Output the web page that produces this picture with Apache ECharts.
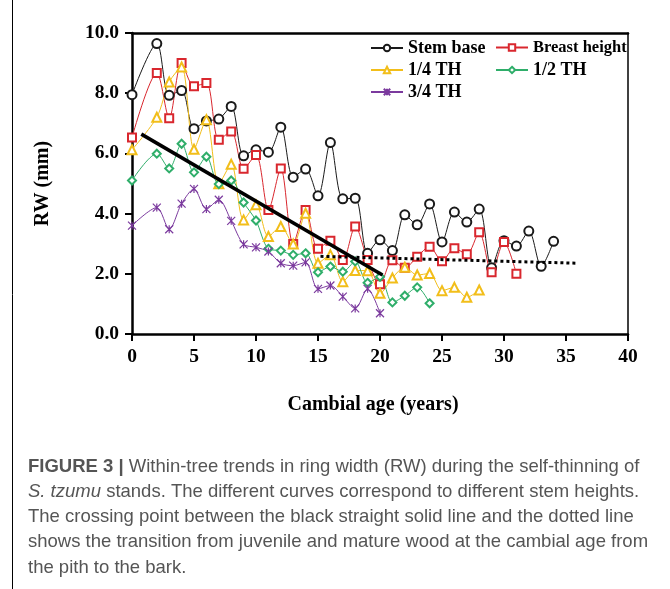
<!DOCTYPE html>
<html>
<head>
<meta charset="utf-8">
<script src="https://cdn.jsdelivr.net/npm/echarts@6/dist/echarts.min.js"></script>
<style>
  html, body { margin: 0; padding: 0; background: #fff; }
  #chart { width: 670px; height: 589px; }
</style>
</head>
<body>
<div id="chart"></div>
<script>
// cambial ages (years) that carry a measurement; age 1 is not plotted
const ages = [0, 2, 3, 4, 5, 6, 7, 8, 9, 10, 11, 12, 13, 14, 15, 16, 17, 18, 19, 20,
  21, 22, 23, 24, 25, 26, 27, 28, 29, 30, 31, 32, 33, 34];

// ring width (mm) per stem height
const stemBase = [7.95, 9.65, 7.93, 8.09, 6.82, 7.08, 7.14, 7.56, 5.92, 6.12, 6.04, 6.87, 5.21, 5.48,
  4.59, 6.36, 4.49, 4.51, 2.68, 3.13, 2.77, 3.96, 3.63, 4.32, 3.06, 4.05, 3.72, 4.15, 2.2, 3.1,
  2.92, 3.42, 2.25, 3.08];
const breastHeight = [6.53, 8.67, 7.17, 9.0, 8.23, 8.34, 6.45, 6.73, 5.49, 5.95, 4.12, 5.5, 2.99, 4.12,
  2.83, 3.1, 2.46, 3.57, 2.46, 1.65, 2.45, 2.2, 2.57, 2.9, 2.42, 2.85, 2.65, 3.38, 2.05, 3.06, 2.0];
const quarterTH = [6.12, 7.2, 8.37, 8.87, 6.14, 7.12, 4.99, 5.64, 3.79, 4.29, 3.24, 3.57, 2.99, 4.01,
  2.35, 2.63, 1.74, 2.11, 2.1, 1.35, 1.86, 2.22, 1.96, 2.01, 1.44, 1.55, 1.22, 1.46];
const halfTH = [5.1, 5.99, 5.5, 6.32, 5.37, 5.89, 4.98, 5.1, 4.37, 3.77, 2.83, 2.77, 2.63, 2.68,
  2.05, 2.24, 2.07, 2.41, 1.7, 1.9, 1.05, 1.27, 1.55, 1.02];
const threeQuarterTH = [3.6, 4.2, 3.48, 4.33, 4.82, 4.15, 4.46, 3.76, 2.98, 2.88, 2.74, 2.35, 2.27, 2.38,
  1.5, 1.61, 1.24, 0.85, 1.5, 0.69];

// the two fitted trend lines (age, RW)
const juvenileLine = [[0.75, 6.64], [20.2, 1.96]];
const matureLine = [[15.2, 2.58], [36, 2.35]];

// axis ticks
const xTicks = [0, 5, 10, 15, 20, 25, 30, 35, 40];
const yTicks = [0, 2, 4, 6, 8, 10];

const serif = "'Liberation Serif', 'Times New Roman', serif";
const sans = "'Liberation Sans', Arial, sans-serif";

const chart = echarts.init(document.getElementById('chart'));

// pair every value with its age
function pairs(values) {
  return values.map((v, i) => [ages[i], v]);
}

const curves = [
  { name: 'Stem base', data: stemBase, color: '#1a1a1a', symbol: 'emptyCircle', size: 9 },
  { name: 'Breast height', data: breastHeight, color: '#d9272e', symbol: 'emptyRect', size: 8 },
  { name: '1/4 TH', data: quarterTH, color: '#f2be1a', symbol: 'emptyTriangle', size: 9 },
  { name: '1/2 TH', data: halfTH, color: '#2fae6a', symbol: 'emptyDiamond', size: 8 },
  { name: '3/4 TH', data: threeQuarterTH, color: '#7b3a9e',
    symbol: 'path://M0,0L10,10M10,0L0,10M5,0L5,10', size: 8 }
];

const series = curves.map((c) => ({
  name: c.name,
  type: 'line',
  data: pairs(c.data),
  smooth: 0.3,
  symbol: c.symbol,
  symbolSize: c.size,
  lineStyle: { color: c.color, width: 1 },
  itemStyle: { color: c.color, borderColor: c.color, borderWidth: 1.2 },
  z: 3
}));

series.push({
  type: 'line',
  data: juvenileLine,
  symbol: 'none',
  lineStyle: { color: '#000', width: 3.5 },
  z: 4
});
series.push({
  type: 'line',
  data: matureLine,
  symbol: 'none',
  lineStyle: { color: '#000', width: 3, type: [3, 3] },
  z: 4
});

// one legend per item so the two columns line up like the original
const legendSpots = [
  { name: 'Stem base', left: 370, top: 39, size: 18 },
  { name: 'Breast height', left: 495, top: 39, size: 16.5 },
  { name: '1/4 TH', left: 370, top: 61, size: 18 },
  { name: '1/2 TH', left: 495, top: 61, size: 18 },
  { name: '3/4 TH', left: 370, top: 83, size: 18 }
];
const legends = legendSpots.map((l) => ({
  data: [l.name],
  left: l.left,
  top: l.top,
  padding: 0,
  itemWidth: 32,
  itemHeight: 8,
  itemGap: 5,
  selectedMode: false,
  textStyle: { fontFamily: serif, fontWeight: 'bold', fontSize: l.size, color: '#000' }
}));

const captionLines = [
  '{b|FIGURE 3 |} Within-tree trends in ring width (RW) during the self-thinning of',
  '{i|S. tzumu} stands. The different curves correspond to different stem heights.',
  'The crossing point between the black straight solid line and the dotted line',
  'shows the transition from juvenile and mature wood at the cambial age from',
  'the pith to the bark.'
];
const captionText = captionLines.map((t, i) => ({
  type: 'text',
  left: 28,
  top: 457 + i * 25.3,
  style: {
    text: t,
    fontFamily: sans,
    fontSize: 18.5,
    fill: '#555',
    rich: {
      b: { fontFamily: sans, fontSize: 18.5, fontWeight: 'bold', fill: '#555' },
      i: { fontFamily: sans, fontSize: 18.5, fontStyle: 'italic', fill: '#555' }
    }
  }
}));

const frameAxis = {
  type: 'value',
  axisTick: { show: false },
  axisLabel: { show: false },
  splitLine: { show: false }
};

const option = {
  animation: false,
  backgroundColor: '#fff',
  grid: { left: 132, right: 42, top: 33, bottom: 255, containLabel: false },
  legend: legends,
  xAxis: [{
    type: 'value',
    min: xTicks[0],
    max: xTicks[xTicks.length - 1],
    interval: 5,
    name: 'Cambial age (years)',
    nameLocation: 'middle',
    nameGap: 61,
    nameTextStyle: { fontFamily: serif, fontWeight: 'bold', fontSize: 20, color: '#000', padding: [0, 14, 0, 0] },
    axisLine: { lineStyle: { color: '#000', width: 2.5 } },
    axisTick: { show: true, length: 7, lineStyle: { color: '#000', width: 2 } },
    axisLabel: { margin: 13, fontFamily: serif, fontWeight: 'bold', fontSize: 19.5, color: '#000' },
    splitLine: { show: false }
  }, Object.assign({}, frameAxis, {
    position: 'top',
    min: 0,
    max: 40,
    axisLine: { show: true, onZero: false, lineStyle: { color: '#000', width: 2.5 } }
  })],
  yAxis: [{
    type: 'value',
    min: yTicks[0],
    max: yTicks[yTicks.length - 1],
    interval: 2,
    name: 'RW (mm)',
    nameLocation: 'middle',
    nameGap: 79,
    nameRotate: 90,
    nameTextStyle: { fontFamily: serif, fontWeight: 'bold', fontSize: 20, color: '#000' },
    axisLine: { show: true, lineStyle: { color: '#000', width: 2.5 } },
    axisTick: { show: true, length: 7, lineStyle: { color: '#000', width: 2 } },
    axisLabel: {
      margin: 13, fontFamily: serif, fontWeight: 'bold', fontSize: 19.5, color: '#000',
      formatter: (v) => v.toFixed(1)
    },
    splitLine: { show: false }
  }, Object.assign({}, frameAxis, {
    position: 'right',
    min: 0,
    max: 10,
    axisLine: { show: true, onZero: false, lineStyle: { color: '#000', width: 1.5 } }
  })],
  graphic: [
    {
      type: 'line',
      shape: { x1: 12.5, y1: 0, x2: 12.5, y2: 589 },
      style: { stroke: '#000', lineWidth: 1 },
      silent: true
    }
  ].concat(captionText),
  series: series
};

chart.setOption(option);
</script>
</body>
</html>
